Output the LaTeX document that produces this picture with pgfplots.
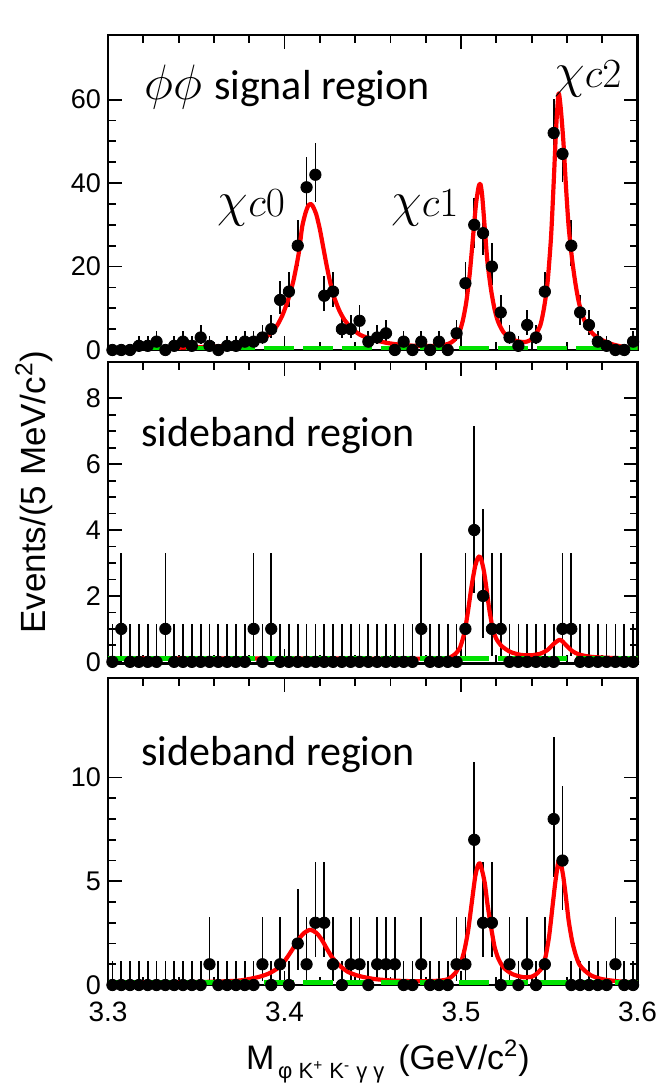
\documentclass[border=0pt]{standalone}
\usepackage{fontspec}
\setmainfont{Liberation Sans}
\newfontfamily\carlito{Carlito}
\usepackage{pgfplots}
\usepackage{pgfplotstable}
\pgfplotsset{compat=1.18}
\definecolor{fitred}{RGB}{255,0,0}
\definecolor{bggreen}{RGB}{0,225,0}

% signal region
\pgfplotstableread{
x n ep em
3.3025 0 1.15 0
3.3075 0 1.15 0
3.3125 0 1.15 0
3.3175 1 2.30 0.83
3.3225 1 2.30 0.83
3.3275 2 2.64 1.29
3.3325 0 1.15 0
3.3375 1 2.30 0.83
3.3425 2 2.64 1.29
3.3475 1 2.30 0.83
3.3525 3 2.92 1.63
3.3575 1 2.30 0.83
3.3625 0 1.15 0
3.3675 1 2.30 0.83
3.3725 1 2.30 0.83
3.3775 2 2.64 1.29
3.3825 2 2.64 1.29
3.3875 3 2.92 1.63
3.3925 5 3.38 2.16
3.3975 12 4.54 3.41
3.4025 14 4.80 3.70
3.4075 25 6.07 4.97
3.4125 39 7.30 6.23
3.4175 42 7.54 6.47
3.4225 13 4.67 3.56
3.4275 14 4.80 3.70
3.4325 5 3.38 2.16
3.4375 5 3.38 2.16
3.4425 7 3.77 2.58
3.4475 2 2.64 1.29
3.4525 3 2.92 1.63
3.4575 4 3.16 1.91
3.4625 0 1.15 0
3.4675 2 2.64 1.29
3.4725 0 1.15 0
3.4775 2 2.64 1.29
3.4825 0 1.15 0
3.4875 2 2.64 1.29
3.4925 0 1.15 0
3.4975 4 3.16 1.91
3.5025 16 5.06 3.97
3.5075 30 6.54 5.45
3.5125 28 6.36 5.27
3.5175 20 5.55 4.44
3.5225 9 4.11 2.94
3.5275 3 2.92 1.63
3.5325 1 2.30 0.83
3.5375 6 3.58 2.38
3.5425 3 2.92 1.63
3.5475 14 4.80 3.70
3.5525 52 8.25 7.19
3.5575 47 7.90 6.84
3.5625 25 6.07 4.97
3.5675 9 4.11 2.94
3.5725 6 3.58 2.38
3.5775 2 2.64 1.29
3.5825 1 2.30 0.83
3.5875 0 1.15 0
3.5925 0 1.15 0
3.5975 2 2.64 1.29
}\dataA

% sideband 1
\pgfplotstableread{
x n ep em
3.3025 0 1.15 0
3.3075 1 2.30 0.83
3.3125 0 1.15 0
3.3175 0 1.15 0
3.3225 0 1.15 0
3.3275 0 1.15 0
3.3325 1 2.30 0.83
3.3375 0 1.15 0
3.3425 0 1.15 0
3.3475 0 1.15 0
3.3525 0 1.15 0
3.3575 0 1.15 0
3.3625 0 1.15 0
3.3675 0 1.15 0
3.3725 0 1.15 0
3.3775 0 1.15 0
3.3825 1 2.30 0.83
3.3875 0 1.15 0
3.3925 1 2.30 0.83
3.3975 0 1.15 0
3.4025 0 1.15 0
3.4075 0 1.15 0
3.4125 0 1.15 0
3.4175 0 1.15 0
3.4225 0 1.15 0
3.4275 0 1.15 0
3.4325 0 1.15 0
3.4375 0 1.15 0
3.4425 0 1.15 0
3.4475 0 1.15 0
3.4525 0 1.15 0
3.4575 0 1.15 0
3.4625 0 1.15 0
3.4675 0 1.15 0
3.4725 0 1.15 0
3.4775 1 2.30 0.83
3.4825 0 1.15 0
3.4875 0 1.15 0
3.4925 0 1.15 0
3.4975 0 1.15 0
3.5025 1 2.30 0.83
3.5075 4 3.16 1.91
3.5125 2 2.64 1.29
3.5175 1 2.30 0.83
3.5225 1 2.30 0.83
3.5275 0 1.15 0
3.5325 0 1.15 0
3.5375 0 1.15 0
3.5425 0 1.15 0
3.5475 0 1.15 0
3.5525 0 1.15 0
3.5575 1 2.30 0.83
3.5625 1 2.30 0.83
3.5675 0 1.15 0
3.5725 0 1.15 0
3.5775 0 1.15 0
3.5825 0 1.15 0
3.5875 0 1.15 0
3.5925 0 1.15 0
3.5975 0 1.15 0
}\dataB

% sideband 2
\pgfplotstableread{
x n ep em
3.3025 0 1.15 0
3.3075 0 1.15 0
3.3125 0 1.15 0
3.3175 0 1.15 0
3.3225 0 1.15 0
3.3275 0 1.15 0
3.3325 0 1.15 0
3.3375 0 1.15 0
3.3425 0 1.15 0
3.3475 0 1.15 0
3.3525 0 1.15 0
3.3575 1 2.30 0.83
3.3625 0 1.15 0
3.3675 0 1.15 0
3.3725 0 1.15 0
3.3775 0 1.15 0
3.3825 0 1.15 0
3.3875 1 2.30 0.83
3.3925 0 1.15 0
3.3975 1 2.30 0.83
3.4025 0 1.15 0
3.4075 2 2.64 1.29
3.4125 1 2.30 0.83
3.4175 3 2.92 1.63
3.4225 3 2.92 1.63
3.4275 1 2.30 0.83
3.4325 0 1.15 0
3.4375 1 2.30 0.83
3.4425 1 2.30 0.83
3.4475 0 1.15 0
3.4525 1 2.30 0.83
3.4575 1 2.30 0.83
3.4625 1 2.30 0.83
3.4675 0 1.15 0
3.4725 0 1.15 0
3.4775 1 2.30 0.83
3.4825 0 1.15 0
3.4875 0 1.15 0
3.4925 0 1.15 0
3.4975 1 2.30 0.83
3.5025 1 2.30 0.83
3.5075 7 3.77 2.58
3.5125 3 2.92 1.63
3.5175 3 2.92 1.63
3.5225 0 1.15 0
3.5275 1 2.30 0.83
3.5325 0 1.15 0
3.5375 1 2.30 0.83
3.5425 0 1.15 0
3.5475 1 2.30 0.83
3.5525 8 3.95 2.77
3.5575 6 3.58 2.38
3.5625 0 1.15 0
3.5675 0 1.15 0
3.5725 0 1.15 0
3.5775 0 1.15 0
3.5825 0 1.15 0
3.5875 1 2.30 0.83
3.5925 0 1.15 0
3.5975 0 1.15 0
}\dataC

\pgfplotsset{
  panel/.style={
    scale only axis, width=264.75pt,
    anchor=north west,
    xmin=3.3, xmax=3.6,
    xtick={3.3,3.4,3.5,3.6},
    minor x tick num=4,
    tick align=inside,
    xtick pos=both, ytick pos=both,
    major tick length=7pt, minor tick length=4pt,
    axis line style={line width=1.1pt},
    every tick/.style={line width=0.9pt, black},
    ticklabel style={font=\fontsize{13.5}{14}\selectfont},
    /pgf/number format/assume math mode=true,
  },
  pts/.style={only marks, mark=*, mark size=2.85pt, black,
    error bars/.cd, y dir=both, y explicit,
    error bar style={line width=0.85pt, black}, error mark=none},
  fit/.style={fitred, line width=2.1pt, smooth, tension=0.4, line join=round, no marks},
  bkg/.style={bggreen, line width=2.4pt, dash pattern=on 15pt off 4.5pt, no marks},
}

\begin{document}
\begin{tikzpicture}
\useasboundingbox (0,0) rectangle (329pt,-542.5pt);

% ---------------- panel 1 ----------------
\begin{axis}[panel, at={(54pt,-17.5pt)}, height=157.5pt,
  ymin=0, ymax=75.5, ytick={0,20,40,60}, minor y tick num=3,
  xticklabels={}]
\addplot[pts] table[x=x, y=n, y error plus=ep, y error minus=em] {\dataA};
\addplot[fit] coordinates {
(3.300,0.15) (3.310,0.25) (3.320,0.35) (3.330,0.45) (3.340,0.55) (3.350,0.65)
(3.360,0.8) (3.370,1.05) (3.378,1.4) (3.384,2.0) (3.389,3.0) (3.393,4.4)
(3.396,6.0) (3.399,8.5) (3.402,12.0) (3.405,16.5) (3.408,23.0) (3.410,29.5)
(3.412,33.0) (3.4135,34.6) (3.4148,35.0) (3.416,34.5) (3.418,32.5) (3.420,29.0)
(3.422,24.5) (3.424,20.0) (3.426,16.0) (3.428,12.8) (3.431,9.5) (3.434,7.2)
(3.438,5.2) (3.443,3.6) (3.450,2.5) (3.458,1.7) (3.466,1.25) (3.474,1.0)
(3.482,0.95) (3.488,1.05) (3.493,1.5) (3.496,2.3) (3.499,4.2) (3.501,7.0)
(3.503,11.5) (3.505,18.5) (3.507,28.0) (3.5085,35.0) (3.5100,39.2) (3.5110,39.8)
(3.5120,37.0) (3.5135,29.0) (3.515,21.0) (3.517,14.5) (3.519,9.8) (3.521,6.8)
(3.524,4.3) (3.528,2.8) (3.532,2.1) (3.536,1.9) (3.539,2.3) (3.542,3.5)
(3.545,6.0) (3.547,10.0) (3.549,16.0) (3.551,27.0) (3.5525,40.0) (3.554,54.0)
(3.5553,61.5) (3.5565,58.0) (3.558,50.0) (3.5595,39.0) (3.561,29.5) (3.563,21.5)
(3.565,15.5) (3.567,11.0) (3.570,7.0) (3.574,4.2) (3.578,2.8) (3.584,1.6)
(3.590,0.9) (3.595,0.5) (3.600,0.3)};
\addplot[bkg] coordinates {(3.3,0.3) (3.6,0.3)};
\node[anchor=base west, inner sep=0] at (axis cs:3.3204,60)
  {\fontsize{25}{26}\selectfont$\phi\phi$\hspace{6pt}{\carlito\fontsize{21}{22}\selectfont signal region}};
\node[anchor=base west, inner sep=0] at (axis cs:3.362,32.1)
  {\fontsize{25}{26}\selectfont$\chi$\fontsize{20}{21}\selectfont$c0$};
\node[anchor=base west, inner sep=0] at (axis cs:3.4603,32.1)
  {\fontsize{25}{26}\selectfont$\chi$\fontsize{20}{21}\selectfont$c1$};
\node[anchor=base west, inner sep=0] at (axis cs:3.5527,62.8)
  {\fontsize{25}{26}\selectfont$\chi$\fontsize{20}{21}\selectfont$c2$};
\end{axis}

% ---------------- panel 2 ----------------
\begin{axis}[panel, at={(54pt,-181pt)}, height=150.75pt,
  ymin=-0.05, ymax=9.1, ytick={0,2,4,6,8}, minor y tick num=3,
  xticklabels={}]
\addplot[pts] table[x=x, y=n, y error plus=ep, y error minus=em] {\dataB};
\addplot[fit] coordinates {
(3.300,0.1) (3.400,0.1) (3.490,0.1) (3.494,0.14) (3.497,0.25) (3.4995,0.44)
(3.502,0.9) (3.504,1.55) (3.506,2.3) (3.508,2.9) (3.5095,3.15) (3.5105,3.2)
(3.5115,3.1) (3.513,2.75) (3.5145,2.2) (3.516,1.6) (3.518,1.0) (3.520,0.7)
(3.523,0.48) (3.528,0.3) (3.534,0.21) (3.540,0.2) (3.545,0.25) (3.549,0.36)
(3.552,0.52) (3.5545,0.63) (3.556,0.67) (3.5575,0.62) (3.560,0.48) (3.563,0.33)
(3.567,0.22) (3.574,0.15) (3.585,0.12) (3.600,0.1)};
\addplot[bkg] coordinates {(3.3,0.1) (3.6,0.1)};
\node[anchor=base west, inner sep=0] at (axis cs:3.3187,6.53)
  {\carlito\fontsize{21}{22}\selectfont sideband region};
\end{axis}

% ---------------- panel 3 ----------------
\begin{axis}[panel, at={(54pt,-339pt)}, height=153.5pt,
  ymin=0, ymax=14.8, ytick={0,5,10}, minor y tick num=4,
  xticklabels={3.3,3.4,3.5,3.6},
  xticklabel style={font=\fontsize{14}{15}\selectfont, yshift=-5pt}]
\addplot[pts] table[x=x, y=n, y error plus=ep, y error minus=em] {\dataC};
\addplot[fit] coordinates {
(3.300,0.12) (3.340,0.13) (3.360,0.16) (3.375,0.22) (3.385,0.38) (3.391,0.55)
(3.396,0.8) (3.400,1.15) (3.404,1.65) (3.408,2.2) (3.411,2.5) (3.4145,2.66)
(3.418,2.52) (3.421,2.2) (3.424,1.75) (3.427,1.33) (3.431,0.95) (3.436,0.63)
(3.442,0.44) (3.450,0.3) (3.460,0.22) (3.475,0.18) (3.488,0.21) (3.493,0.3)
(3.497,0.6) (3.500,1.1) (3.502,1.7) (3.504,2.6) (3.506,3.9) (3.508,5.2)
(3.5095,5.75) (3.5107,5.87) (3.512,5.5) (3.5135,4.9) (3.515,3.9) (3.517,2.8)
(3.519,1.85) (3.521,1.3) (3.524,0.85) (3.529,0.53) (3.535,0.38) (3.540,0.4)
(3.543,0.55) (3.546,0.85) (3.548,1.4) (3.550,2.4) (3.552,3.9) (3.5535,5.0)
(3.5553,6.0) (3.5568,5.75) (3.558,5.2) (3.5595,4.2) (3.561,3.1) (3.563,2.1)
(3.565,1.45) (3.567,1.0) (3.570,0.7) (3.574,0.45) (3.580,0.28) (3.590,0.17)
(3.600,0.13)};
\addplot[bkg] coordinates {(3.3,0.12) (3.6,0.12)};
\node[anchor=base west, inner sep=0] at (axis cs:3.3187,10.58)
  {\carlito\fontsize{21}{22}\selectfont sideband region};
\end{axis}

% axis titles
\node[rotate=90, anchor=base, font=\fontsize{17.5}{18}\selectfont] at (22.5pt,-246pt)
  {Events/(5 MeV/c\textsuperscript{2})};
\node[anchor=base, font=\fontsize{17}{18}\selectfont] at (194pt,-534.5pt)
  {M\raisebox{-4.5pt}{\fontsize{11}{12}\selectfont\,φ K\textsuperscript{+} K\textsuperscript{-} γ γ}\hspace{7pt}(GeV/c\textsuperscript{2})};
\end{tikzpicture}
\end{document}
